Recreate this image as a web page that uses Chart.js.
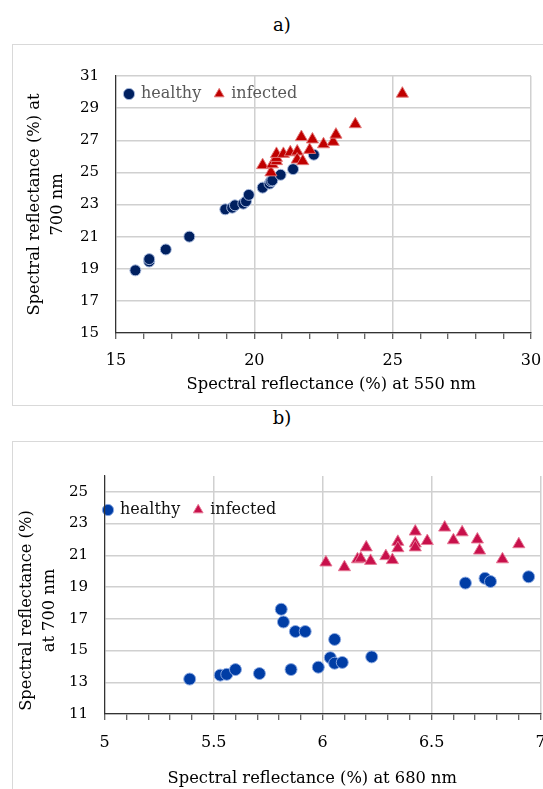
<!DOCTYPE html>
<html><head><meta charset="utf-8">
<script src="https://cdn.jsdelivr.net/npm/chart.js@4.4.1/dist/chart.umd.min.js"></script>
<style>
html,body{margin:0;padding:0;background:#fff;width:543px;height:789px;overflow:hidden;position:relative;}
.ttl{position:absolute;left:0;width:564px;text-align:center;font:18px 'DejaVu Serif',serif;color:#000;line-height:22px;}
.box{position:absolute;left:12px;width:600px;border:1px solid #d9d9d9;box-sizing:border-box;background:#fff;}
canvas{position:absolute;left:0;top:0;}
</style></head><body>
<div class="ttl" style="top:14px">a)</div>
<div class="box" style="top:44px;height:362px"><canvas id="ca" width="560" height="358" style="width:560px;height:358px"></canvas></div>
<div class="ttl" style="top:407px">b)</div>
<div class="box" style="top:441px;height:360px"><canvas id="cb" width="560" height="350" style="width:560px;height:350px"></canvas></div>
<script>
// ---------- DATA ----------
const seriesNames = ['healthy', 'infected'];

// a) reflectance at 550 nm (x) vs 700 nm (y)
const healthyA_x = [15.7, 16.2, 16.2, 16.8, 17.65, 18.95, 19.2, 19.3, 19.6, 19.7, 19.8, 20.3, 20.55, 20.6, 20.65, 20.95, 21.4, 22.15];
const healthyA_y = [18.9, 19.45, 19.6, 20.2, 21.0, 22.7, 22.8, 22.95, 23.05, 23.2, 23.6, 24.05, 24.3, 24.45, 24.5, 24.85, 25.2, 26.1];
const infectedA_x = [20.3, 20.6, 20.65, 20.8, 20.8, 20.8, 21.05, 21.3, 21.55, 21.55, 21.75, 22.0, 21.7, 22.1, 22.5, 22.85, 22.95, 23.65, 25.35];
const infectedA_y = [25.45, 25.0, 25.5, 25.7, 25.9, 26.15, 26.15, 26.25, 26.3, 25.8, 25.7, 26.4, 27.2, 27.05, 26.75, 26.9, 27.35, 28.0, 29.9];

// b) reflectance at 680 nm (x) vs 700 nm (y)
const healthyB_x = [5.39, 5.53, 5.56, 5.6, 5.71, 5.81, 5.82, 5.855, 5.875, 5.92, 5.98, 6.035, 6.055, 6.055, 6.09, 6.225, 6.655, 6.745, 6.77, 6.945];
const healthyB_y = [13.2, 13.45, 13.5, 13.8, 13.55, 17.6, 16.8, 13.8, 16.2, 16.2, 13.95, 14.55, 15.7, 14.2, 14.25, 14.6, 19.25, 19.55, 19.35, 19.65];
const infectedB_x = [6.015, 6.1, 6.16, 6.175, 6.2, 6.22, 6.29, 6.32, 6.345, 6.345, 6.425, 6.425, 6.425, 6.48, 6.56, 6.6, 6.64, 6.71, 6.72, 6.825, 6.9];
const infectedB_y = [20.55, 20.25, 20.75, 20.8, 21.5, 20.65, 20.95, 20.7, 21.85, 21.45, 22.5, 21.75, 21.5, 21.9, 22.75, 21.95, 22.45, 22.0, 21.3, 20.75, 21.7];

// axes / ticks
const xLabelsA = [15, 20, 25, 30];
const yTicksA = [15, 17, 19, 21, 23, 25, 27, 29, 31];
const xLabelsB = [5, 5.5, 6, 6.5, 7];
const yTicksB = [11, 13, 15, 17, 19, 21, 23, 25];
const xTitleA = '   Spectral reflectance (%) at 550 nm';
const yTitleA = ['Spectral reflectance (%) at', '700 nm'];
const xTitleB = 'Spectral reflectance (%) at 680 nm    ';
const yTitleB = ['Spectral reflectance (%)      ', 'at 700 nm      '];

// ---------- RENDER ----------
Chart.defaults.font.family = "'DejaVu Serif', serif";
Chart.defaults.color = '#000';

const pts = (xs, ys) => xs.map((x, i) => ({x: x, y: ys[i]}));
const near = (arr, v) => arr.some(a => Math.abs(a - v) < 1e-6);

const legendMover = {
  id: 'legendMover',
  afterLayout(chart, args, opts) {
    const lg = chart.legend, ca = chart.chartArea;
    if (!lg || !ca) return;
    lg.left = ca.left + opts.dx;
    lg.top = ca.top + opts.dy;
    lg.right = lg.left + 420;
    lg.bottom = lg.top + 40;
  }
};

function makeChart(id, cfg) {
  const ctx = document.getElementById(id);
  return new Chart(ctx, {
    type: 'scatter',
    data: {
      datasets: [
        {label: seriesNames[0], data: pts(cfg.hx, cfg.hy), pointStyle: 'circle', pointRadius: cfg.hr, pointHoverRadius: cfg.hr,
         backgroundColor: cfg.hc, borderColor: cfg.hb, borderWidth: 1, order: 1},
        {label: seriesNames[1], data: pts(cfg.ix, cfg.iy), pointStyle: 'triangle', pointRadius: 7, pointHoverRadius: 7,
         backgroundColor: cfg.ic, borderColor: cfg.ib, borderWidth: 1, order: 0}
      ]
    },
    options: {
      responsive: false, animation: false, devicePixelRatio: 1, events: [],
      layout: {padding: {left: 0, top: cfg.top, right: cfg.right, bottom: 0}},
      plugins: {
        tooltip: {enabled: false},
        legend: {
          display: true, position: 'top', align: 'start', maxHeight: 0.001,
          labels: {usePointStyle: true, boxWidth: 8, boxHeight: 8, padding: 14, color: cfg.legendColor,
                   font: {size: 16}, sort: (a, b) => a.datasetIndex - b.datasetIndex}
        },
        legendMover: {dx: cfg.ldx, dy: cfg.ldy}
      },
      scales: {
        x: {
          type: 'linear', min: cfg.xmin, max: cfg.xmax,
          ticks: {stepSize: cfg.xstep, autoSkip: false, maxRotation: 0, minRotation: 0, padding: cfg.xpad,
                  font: {size: 16}, color: '#000',
                  callback: (v) => near(cfg.xlabels, v) ? String(cfg.xlabels.find(a => Math.abs(a - v) < 1e-6)) : ''},
          grid: {display: true, drawOnChartArea: true, drawTicks: true, tickLength: 6, tickColor: '#333333', tickWidth: 1, lineWidth: 1.5,
                 color: (c) => (c.tick && near(cfg.xlabels, c.tick.value)) ? '#d0d0d0' : 'rgba(255,255,255,0)'},
          border: {display: true, color: '#333333', width: 1.2},
          title: {display: true, text: cfg.xtitle, font: {size: 16.3}, color: '#000', padding: {top: 0, bottom: cfg.xtpb}},
          afterFit: (s) => { s.height = cfg.xh; }
        },
        y: {
          type: 'linear', min: cfg.ymin, max: cfg.ymax,
          afterBuildTicks: (s) => { s.ticks = cfg.yticks.map(v => ({value: v})); },
          ticks: {padding: cfg.ypad, font: {size: 15}, color: '#000'},
          grid: {display: true, drawOnChartArea: true, drawTicks: false, color: '#d0d0d0', lineWidth: 1.5},
          border: {display: true, color: '#333333', width: 1.2},
          title: {display: true, text: cfg.ytitle, font: {size: 16.3, lineHeight: cfg.ylh}, color: '#000', padding: {top: cfg.ytpt, bottom: 0}},
          afterFit: (s) => { s.width = cfg.yw; }
        }
      }
    },
    plugins: [legendMover]
  });
}

makeChart('ca', {
  hx: healthyA_x, hy: healthyA_y, ix: infectedA_x, iy: infectedA_y,
  hr: 5.5, hc: '#002060', hb: 'rgba(170,188,222,0.95)', ic: '#C00000', ib: 'rgba(226,120,120,0.95)',
  top: 31, right: 42, yw: 103, xh: 70,
  xmin: 15, xmax: 30, xstep: 1, xlabels: xLabelsA, xpad: 12, xtitle: xTitleA, xtpb: 8.4,
  ymin: 15, ymax: 31, yticks: yTicksA, ypad: 17, ytitle: yTitleA, ylh: 1.41, ytpt: 10.5,
  legendColor: '#595959', ldx: -5, ldy: -4
});

makeChart('cb', {
  hx: healthyB_x, hy: healthyB_y, ix: infectedB_x, iy: infectedB_y,
  hr: 6, hc: '#003DA5', hb: 'rgba(140,170,225,0.95)', ic: '#C8104B', ib: 'rgba(230,120,150,0.95)',
  top: 34, right: 32.4, yw: 91.7, xh: 78,
  xmin: 5, xmax: 7, xstep: 0.1, xlabels: xLabelsB, xpad: 13.4, xtitle: xTitleB, xtpb: 3,
  ymin: 11, ymax: 26, yticks: yTicksB, ypad: 16.7, ytitle: yTitleB, ylh: 1.43, ytpt: 2.2,
  legendColor: '#111111', ldx: -14.7, ldy: 12
});
</script>
</body></html>
